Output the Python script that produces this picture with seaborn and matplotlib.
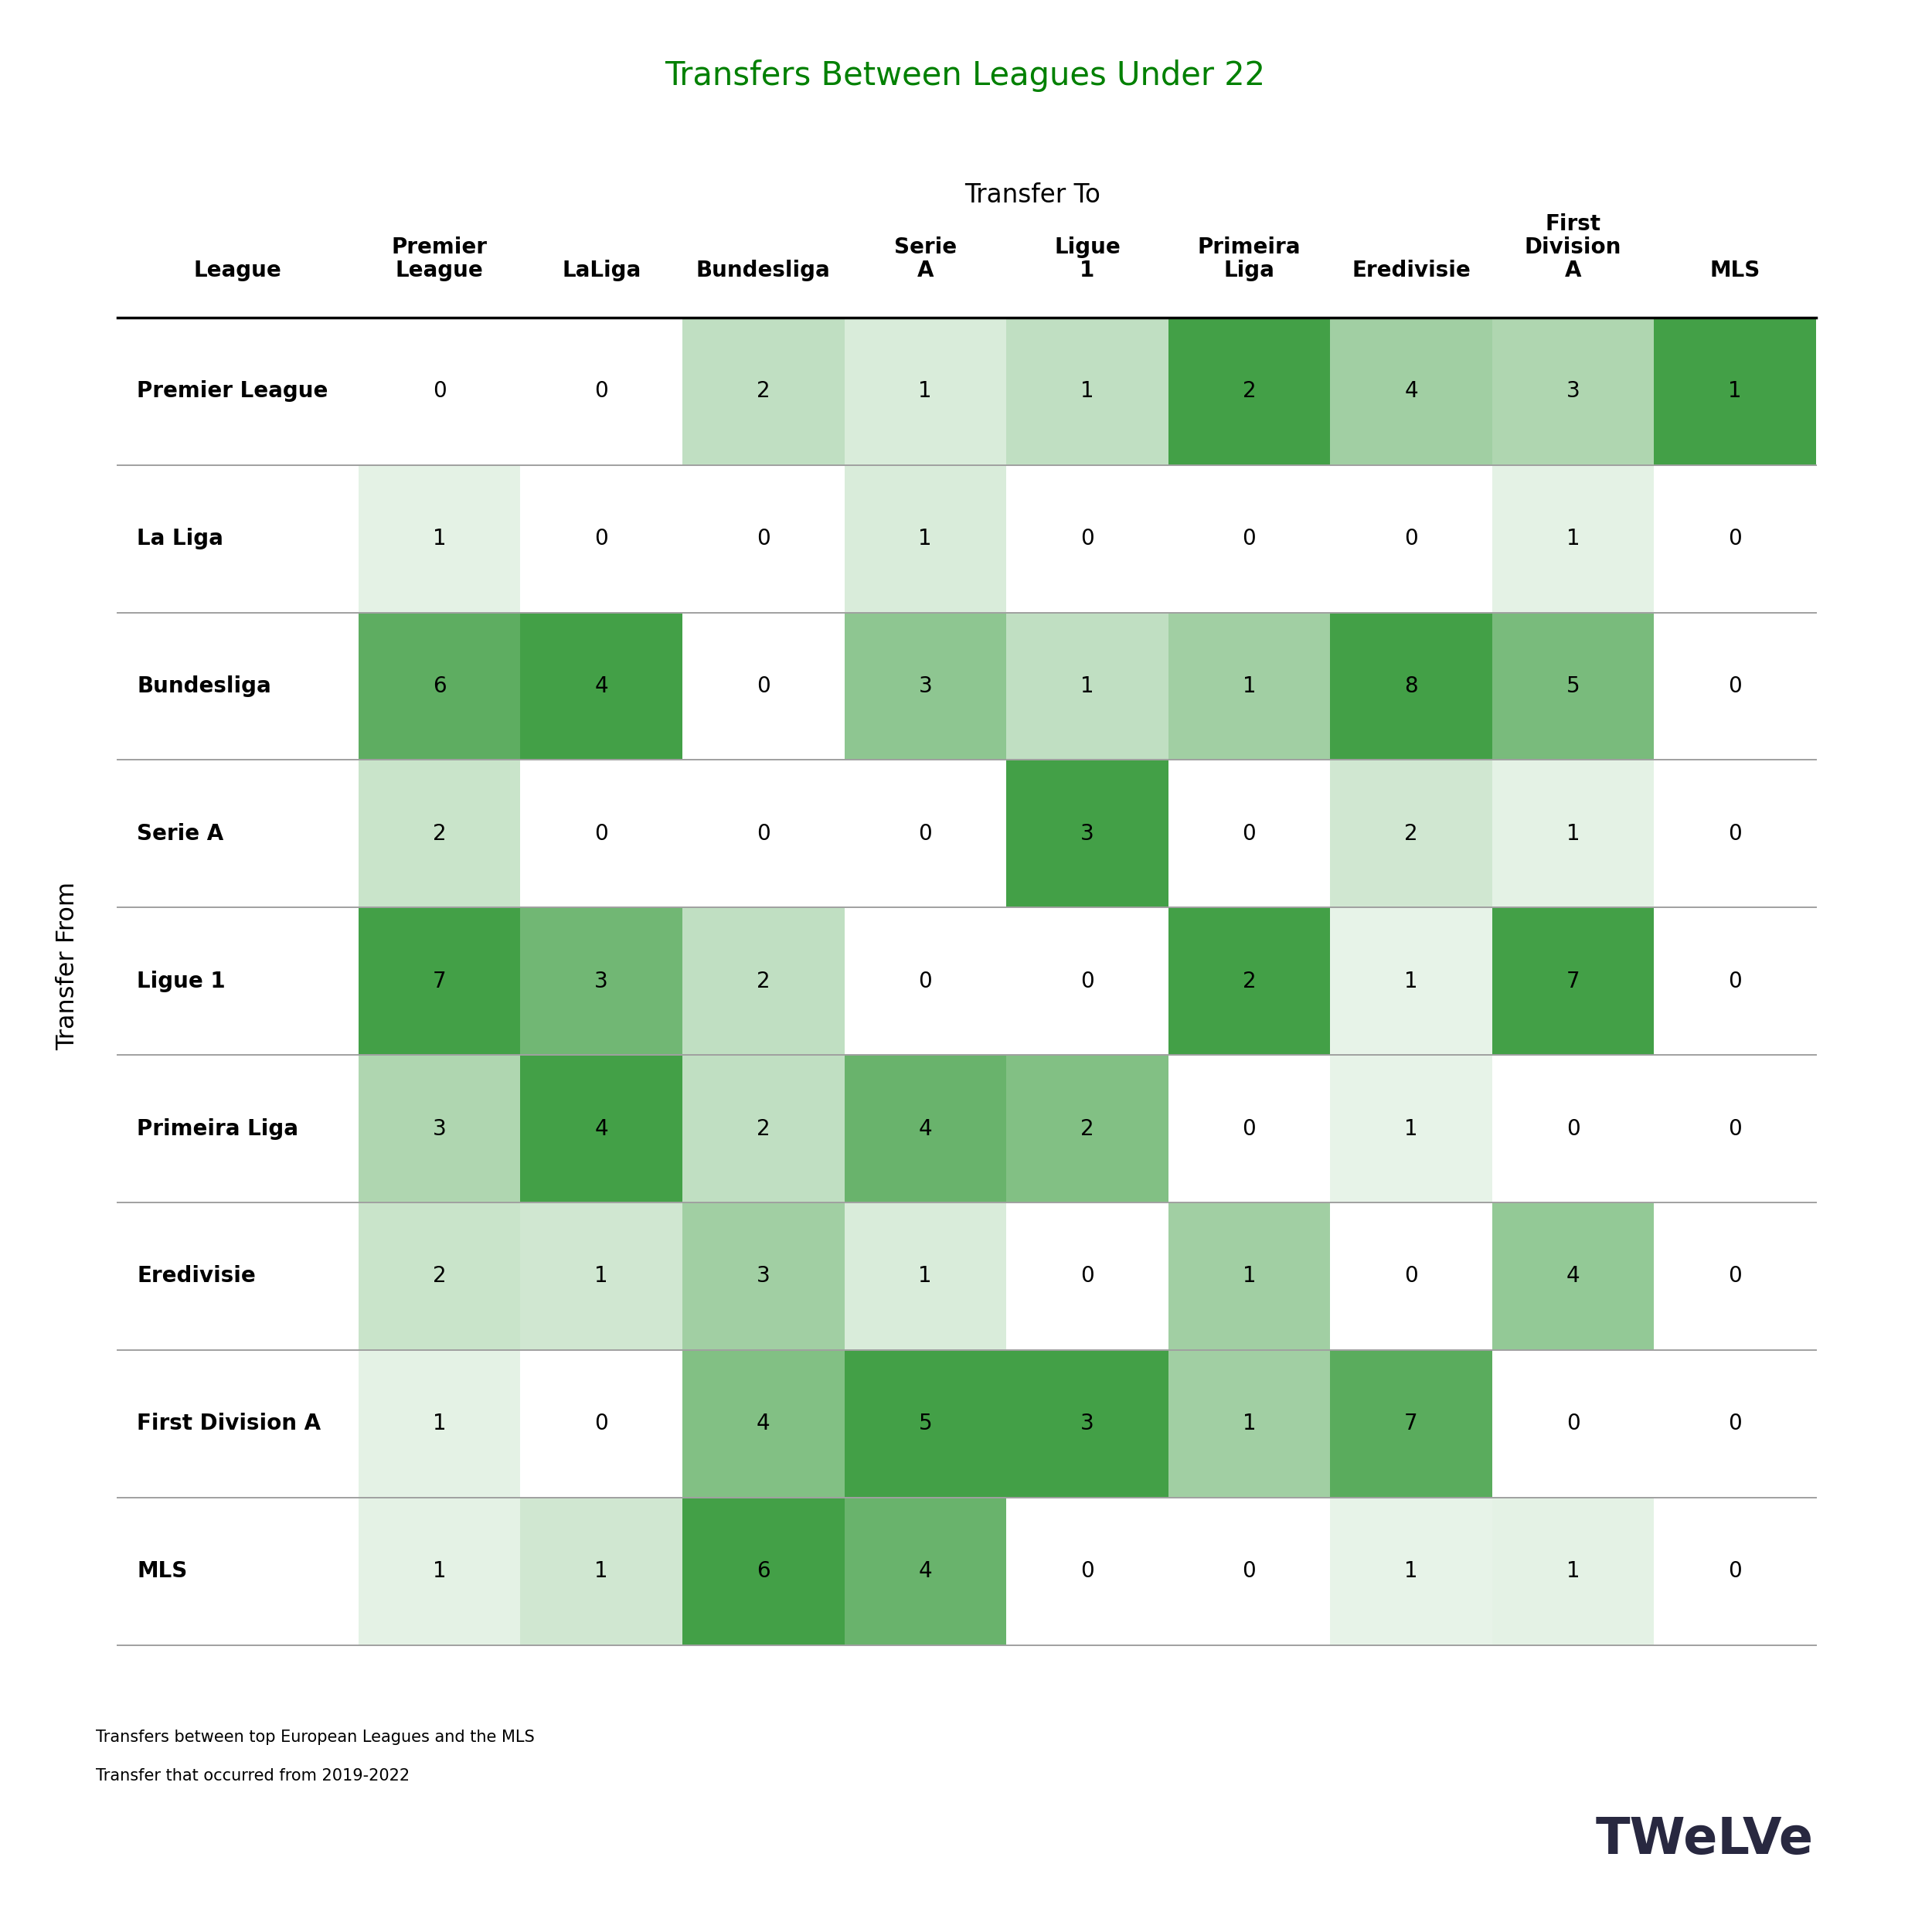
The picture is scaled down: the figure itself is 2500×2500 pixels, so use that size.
import numpy as np
import pandas as pd
import matplotlib
import matplotlib.pyplot as plt
from matplotlib.colors import LinearSegmentedColormap
import seaborn as sns

matplotlib.use("Agg")

# leagues transferred from (rows) and to (columns)
from_leagues = ["Premier League", "La Liga", "Bundesliga", "Serie A", "Ligue 1",
                "Primeira Liga", "Eredivisie", "First Division A", "MLS"]
to_leagues = ["Premier League", "LaLiga", "Bundesliga", "Serie A", "Ligue 1",
              "Primeira Liga", "Eredivisie", "First Division A", "MLS"]
to_headers = ["Premier\nLeague", "LaLiga", "Bundesliga", "Serie\nA", "Ligue\n1",
              "Primeira\nLiga", "Eredivisie", "First\nDivision\nA", "MLS"]

# transfer counts, one list per "from" league
premier_league = [0, 0, 2, 1, 1, 2, 4, 3, 1]
la_liga = [1, 0, 0, 1, 0, 0, 0, 1, 0]
bundesliga = [6, 4, 0, 3, 1, 1, 8, 5, 0]
serie_a = [2, 0, 0, 0, 3, 0, 2, 1, 0]
ligue_1 = [7, 3, 2, 0, 0, 2, 1, 7, 0]
primeira_liga = [3, 4, 2, 4, 2, 0, 1, 0, 0]
eredivisie = [2, 1, 3, 1, 0, 1, 0, 4, 0]
first_division_a = [1, 0, 4, 5, 3, 1, 7, 0, 0]
mls = [1, 1, 6, 4, 0, 0, 1, 1, 0]

df = pd.DataFrame([premier_league, la_liga, bundesliga, serie_a, ligue_1,
                   primeira_liga, eredivisie, first_division_a, mls],
                  index=from_leagues, columns=to_leagues)

# colour scaled per destination column
norm = df / df.max(axis=0)
cmap = LinearSegmentedColormap.from_list("wg", ["#ffffff", "#43a047"])

fig = plt.figure(figsize=(25, 25), dpi=100)
ax = fig.add_axes([0.0606, 0.1486, 0.8794, 0.687])

sns.heatmap(norm, ax=ax, cmap=cmap, vmin=0, vmax=1, cbar=False,
            annot=df.values, fmt="d", annot_kws={"fontsize": 20, "color": "black"},
            xticklabels=False, yticklabels=False, linewidths=0)

label_w = 1.49
ax.set_xlim(-label_w, len(to_leagues))
ax.set_ylim(len(from_leagues), 0)
ax.set_xlabel("")
ax.set_ylabel("")
ax.tick_params(left=False, bottom=False)

# row labels
for i, name in enumerate(from_leagues):
    ax.text(-label_w + 0.122, i + 0.5, name, ha="left", va="center",
            fontsize=20, fontweight="bold")

# column headers
ax.text(-label_w / 2, -0.245, "League", ha="center", va="bottom",
        fontsize=20, fontweight="bold", clip_on=False)
for j, h in enumerate(to_headers):
    ax.text(j + 0.5, -0.245, h, ha="center", va="bottom", multialignment="center",
            fontsize=20, fontweight="bold", linespacing=1.1, clip_on=False)

# row separators
ax.axhline(0, color="black", lw=2.5, clip_on=False)
for i in range(1, len(from_leagues) + 1):
    ax.axhline(i, color="#a0a0a0", lw=1.4, clip_on=False)

fig.text(0.4994, 0.9607, "Transfers Between Leagues Under 22", ha="center", va="center",
         fontsize=30, color="green")
fig.text(0.5344, 0.899, "Transfer To", ha="center", va="center", fontsize=23.5)
fig.text(0.0351, 0.5, "Transfer From", ha="center", va="center", rotation=90,
         fontsize=23)

fig.text(0.0497, 0.1008, "Transfers between top European Leagues and the MLS",
         ha="left", va="center", fontsize=15)
fig.text(0.0497, 0.081, "Transfer that occurred from 2019-2022",
         ha="left", va="center", fontsize=15)

fig.text(0.9388, 0.0475, "TWeLVe", ha="right", va="center", fontsize=47,
         fontweight="heavy", color="#282840")

fig.savefig("out.png", dpi=100)
